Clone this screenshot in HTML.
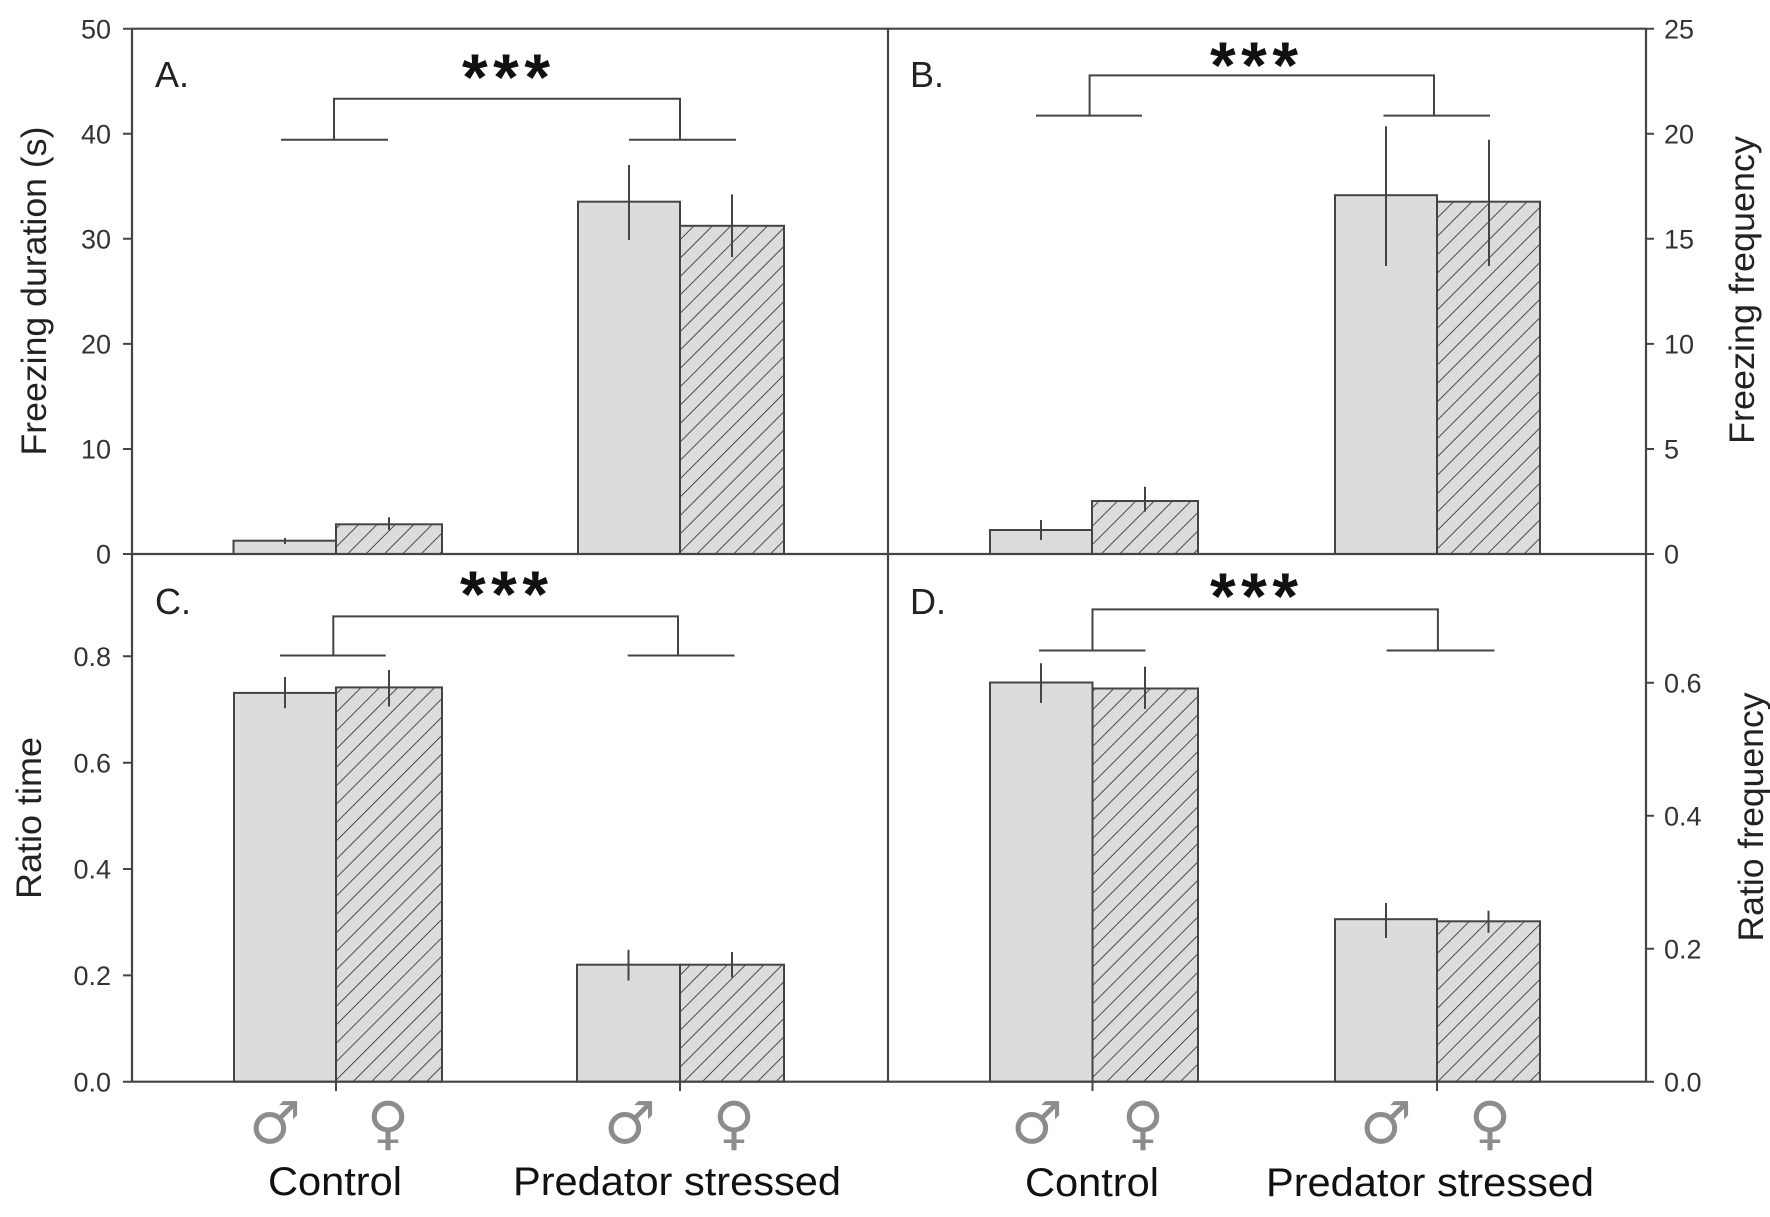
<!DOCTYPE html>
<html><head><meta charset="utf-8"><style>
html,body{margin:0;padding:0;background:#fff;}
svg{display:block;}
</style></head><body>
<svg width="1770" height="1217" viewBox="0 0 1770 1217" xmlns="http://www.w3.org/2000/svg">
<defs>
<pattern id="h" width="13" height="13" patternUnits="userSpaceOnUse" patternTransform="rotate(45)">
<rect width="13" height="13" fill="#dcdcdc"/>
<line x1="0" y1="0" x2="0" y2="13" stroke="#333" stroke-width="1.7"/>
</pattern>
</defs>
<rect width="1770" height="1217" fill="#fff"/>

<!-- Bars -->
<g stroke="#444" stroke-width="2">
<rect x="233.5" y="540.7" width="102.5" height="13.3" fill="#dcdcdc"/>
<rect x="336" y="524.3" width="106" height="29.7" fill="url(#h)"/>
<rect x="578" y="201.7" width="102" height="352.3" fill="#dcdcdc"/>
<rect x="680" y="225.8" width="104" height="328.2" fill="url(#h)"/>
<rect x="990" y="530" width="102" height="24" fill="#dcdcdc"/>
<rect x="1092" y="501" width="106" height="53" fill="url(#h)"/>
<rect x="1335" y="195.2" width="102" height="358.8" fill="#dcdcdc"/>
<rect x="1437" y="201.7" width="103" height="352.3" fill="url(#h)"/>
<rect x="234" y="692.9" width="102" height="388.8" fill="#dcdcdc"/>
<rect x="336" y="687.4" width="106" height="394.3" fill="url(#h)"/>
<rect x="577" y="964.7" width="103" height="117" fill="#dcdcdc"/>
<rect x="680" y="964.7" width="104" height="117" fill="url(#h)"/>
<rect x="990" y="682.5" width="102.5" height="399.2" fill="#dcdcdc"/>
<rect x="1092.5" y="688.5" width="105.5" height="393.2" fill="url(#h)"/>
<rect x="1335" y="919.2" width="102" height="162.5" fill="#dcdcdc"/>
<rect x="1437" y="921.3" width="103" height="160.4" fill="url(#h)"/>
</g>

<!-- Error bars -->
<g stroke="#444" stroke-width="2" fill="none">
<line x1="285" y1="538" x2="285" y2="544"/>
<line x1="389" y1="517.3" x2="389" y2="530"/>
<line x1="629" y1="165" x2="629" y2="240"/>
<line x1="732" y1="194.4" x2="732" y2="257"/>
<line x1="1041" y1="520" x2="1041" y2="540"/>
<line x1="1145" y1="486.7" x2="1145" y2="511.7"/>
<line x1="1386" y1="126.3" x2="1386" y2="266"/>
<line x1="1489" y1="139.7" x2="1489" y2="266"/>
<line x1="285" y1="677" x2="285" y2="708.2"/>
<line x1="389" y1="670" x2="389" y2="706.5"/>
<line x1="628.5" y1="949.8" x2="628.5" y2="980.5"/>
<line x1="732" y1="952" x2="732" y2="977.5"/>
<line x1="1041" y1="663.3" x2="1041" y2="703"/>
<line x1="1145" y1="666.7" x2="1145" y2="709"/>
<line x1="1386" y1="903" x2="1386" y2="938"/>
<line x1="1488.5" y1="910.7" x2="1488.5" y2="932.8"/>
</g>

<!-- Brackets -->
<g stroke="#444" stroke-width="2" fill="none">
<path d="M281 139.7H388M334 139.7V98.7H680V139.7M629 139.7H736"/>
<path d="M1036 115.6H1142M1089.6 115.6V75.4H1434V115.6M1383.5 115.6H1490"/>
<path d="M280 655.5H385.7M333.3 655.5V616.4H678V655.5M627.7 655.5H734.5"/>
<path d="M1039 650.5H1145.5M1092.5 650.5V609.4H1437.9V650.5M1386.6 650.5H1494.5"/>
</g>

<!-- Frame / axes -->
<g stroke="#444" stroke-width="2.2" fill="none">
<line x1="132" y1="28.7" x2="1646" y2="28.7"/>
<line x1="132" y1="554" x2="1646" y2="554"/>
<line x1="132" y1="1081.7" x2="1646" y2="1081.7"/>
<line x1="132" y1="28.7" x2="132" y2="1081.7"/>
<line x1="1646" y1="28.7" x2="1646" y2="1081.7"/>
<line x1="888" y1="28.7" x2="888" y2="1081.7"/>
</g>

<!-- Ticks -->
<g stroke="#444" stroke-width="2" fill="none">
<path d="M123 28.7H132M123 133.8H132M123 238.8H132M123 343.9H132M123 449H132M123 554H132"/>
<path d="M1646 28.7H1654M1646 133.8H1654M1646 238.8H1654M1646 343.9H1654M1646 449H1654M1646 554H1654"/>
<path d="M123 656.3H132M123 762.7H132M123 869H132M123 975.4H132M123 1081.7H132"/>
<path d="M1646 682.7H1654M1646 815.7H1654M1646 948.7H1654M1646 1081.7H1654"/>
<path d="M336 1081.7V1091M680 1081.7V1091M1092.5 1081.7V1091M1437 1081.7V1091"/>
</g>

<!-- Tick labels -->
<g font-family="Liberation Sans, Arial, sans-serif" font-size="27" fill="#333">
<g text-anchor="end">
<text x="111" y="38.4">50</text>
<text x="111" y="143.5">40</text>
<text x="111" y="248.5">30</text>
<text x="111" y="353.6">20</text>
<text x="111" y="458.7">10</text>
<text x="111" y="563.7">0</text>
<text x="111" y="666">0.8</text>
<text x="111" y="772.4">0.6</text>
<text x="111" y="878.7">0.4</text>
<text x="111" y="985.1">0.2</text>
<text x="111" y="1091.4">0.0</text>
</g>
<g text-anchor="start">
<text x="1664" y="38.4">25</text>
<text x="1664" y="143.5">20</text>
<text x="1664" y="248.5">15</text>
<text x="1664" y="353.6">10</text>
<text x="1664" y="458.7">5</text>
<text x="1664" y="563.7">0</text>
<text x="1664" y="692.4">0.6</text>
<text x="1664" y="825.4">0.4</text>
<text x="1664" y="958.4">0.2</text>
<text x="1664" y="1091.4">0.0</text>
</g>
</g>

<!-- Axis titles -->
<g font-family="Liberation Sans, Arial, sans-serif" font-size="35" fill="#222" text-anchor="middle">
<text transform="translate(46,291) rotate(-90)" textLength="329" lengthAdjust="spacingAndGlyphs">Freezing duration (s)</text>
<text transform="translate(41,818) rotate(-90)" textLength="162" lengthAdjust="spacingAndGlyphs">Ratio time</text>
<text transform="translate(1754,290) rotate(-90)" textLength="308" lengthAdjust="spacingAndGlyphs">Freezing frequency</text>
<text transform="translate(1763,817) rotate(-90)" textLength="249" lengthAdjust="spacingAndGlyphs">Ratio frequency</text>
</g>

<!-- Panel letters -->
<g font-family="Liberation Sans, Arial, sans-serif" font-size="36" fill="#222">
<text x="155" y="87">A.</text>
<text x="910" y="87">B.</text>
<text x="155" y="614">C.</text>
<text x="910" y="614">D.</text>
</g>

<!-- Significance asterisks -->
<g font-family="Liberation Sans, Arial, sans-serif" font-size="66" font-weight="bold" fill="#111" text-anchor="middle">
<text x="506" y="100" textLength="88" lengthAdjust="spacing">***</text>
<text x="1254" y="88" textLength="88" lengthAdjust="spacing">***</text>
<text x="504" y="617" textLength="88" lengthAdjust="spacing">***</text>
<text x="1254" y="619" textLength="88" lengthAdjust="spacing">***</text>
</g>

<!-- Sex symbols -->
<g font-family="DejaVu Sans, sans-serif" font-size="58" fill="#8c8c8c" text-anchor="middle">
<text x="275" y="1143">♂</text>
<text x="388" y="1143">♀</text>
<text x="630" y="1143">♂</text>
<text x="734" y="1143">♀</text>
<text x="1037" y="1143">♂</text>
<text x="1143" y="1143">♀</text>
<text x="1386" y="1143">♂</text>
<text x="1490" y="1143">♀</text>
</g>

<!-- Group labels -->
<g font-family="Liberation Sans, Arial, sans-serif" font-size="40" fill="#111" text-anchor="middle">
<text x="335" y="1195" textLength="134" lengthAdjust="spacingAndGlyphs">Control</text>
<text x="677" y="1195" textLength="328" lengthAdjust="spacingAndGlyphs">Predator stressed</text>
<text x="1092" y="1196" textLength="134" lengthAdjust="spacingAndGlyphs">Control</text>
<text x="1430" y="1196" textLength="328" lengthAdjust="spacingAndGlyphs">Predator stressed</text>
</g>
</svg>
</body></html>
